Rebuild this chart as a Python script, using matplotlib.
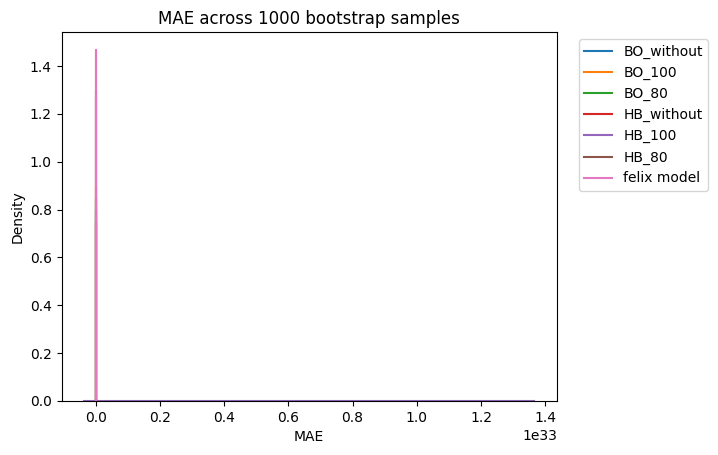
import numpy as np
import matplotlib.pyplot as plt

# KDE curves (MAE, density)
models = ["BO_without", "BO_100", "BO_80", "HB_without", "HB_100", "HB_80", "felix model"]

bo_without_x = [0.0, 0.2, 0.4, 0.6, 0.8, 1.0, 1.2]
bo_without_y = [0.0, 0.1, 0.5, 0.8, 0.5, 0.1, 0.0]
bo_100_x = [0.0, 0.2, 0.4, 0.6, 0.8, 1.0, 1.2]
bo_100_y = [0.0, 0.15, 0.6, 0.9, 0.6, 0.15, 0.0]
bo_80_x = [0.0, 0.2, 0.4, 0.6, 0.8, 1.0, 1.2]
bo_80_y = [0.0, 0.12, 0.55, 0.85, 0.55, 0.12, 0.0]
hb_without_x = [0.0, 0.2, 0.4, 0.6, 0.8, 1.0, 1.2]
hb_without_y = [0.0, 0.1, 0.45, 0.75, 0.45, 0.1, 0.0]
# one huge outlier stretches this one over the whole axis
hb_100_x = [-3.6e31, 0.0, 2.0e32, 4.0e32, 6.0e32, 8.0e32, 1.0e33, 1.2e33, 1.366e33]
hb_100_y = [0.0, 7e-34, 7e-34, 7e-34, 7e-34, 7e-34, 7e-34, 7e-34, 0.0]
hb_80_x = [0.0, 0.1, 0.2, 0.3, 0.4, 0.5, 0.6, 0.7, 0.8]
hb_80_y = [0.0, 0.05, 0.35, 0.95, 1.30, 0.95, 0.35, 0.05, 0.0]
felix_x = [0.0, 0.1, 0.2, 0.3, 0.4, 0.5, 0.6, 0.7, 0.8]
felix_y = [0.0, 0.05, 0.40, 1.10, 1.467, 1.10, 0.40, 0.05, 0.0]

curves = [
    (bo_without_x, bo_without_y),
    (bo_100_x, bo_100_y),
    (bo_80_x, bo_80_y),
    (hb_without_x, hb_without_y),
    (hb_100_x, hb_100_y),
    (hb_80_x, hb_80_y),
    (felix_x, felix_y),
]

fig = plt.figure(figsize=(7.18, 4.55), dpi=100)
ax = fig.add_axes([0.0857, 0.1187, 0.6900, 0.8099])

for name, (x, y) in zip(models, curves):
    ax.plot(x, y, label=name, linewidth=1.5)

ax.set_ylim(bottom=0)
ax.set_title("MAE across 1000 bootstrap samples")
ax.set_xlabel("MAE")
ax.set_ylabel("Density")
ax.legend(bbox_to_anchor=(1.03, 1), loc="upper left")

fig.savefig("out.png", dpi=100)
